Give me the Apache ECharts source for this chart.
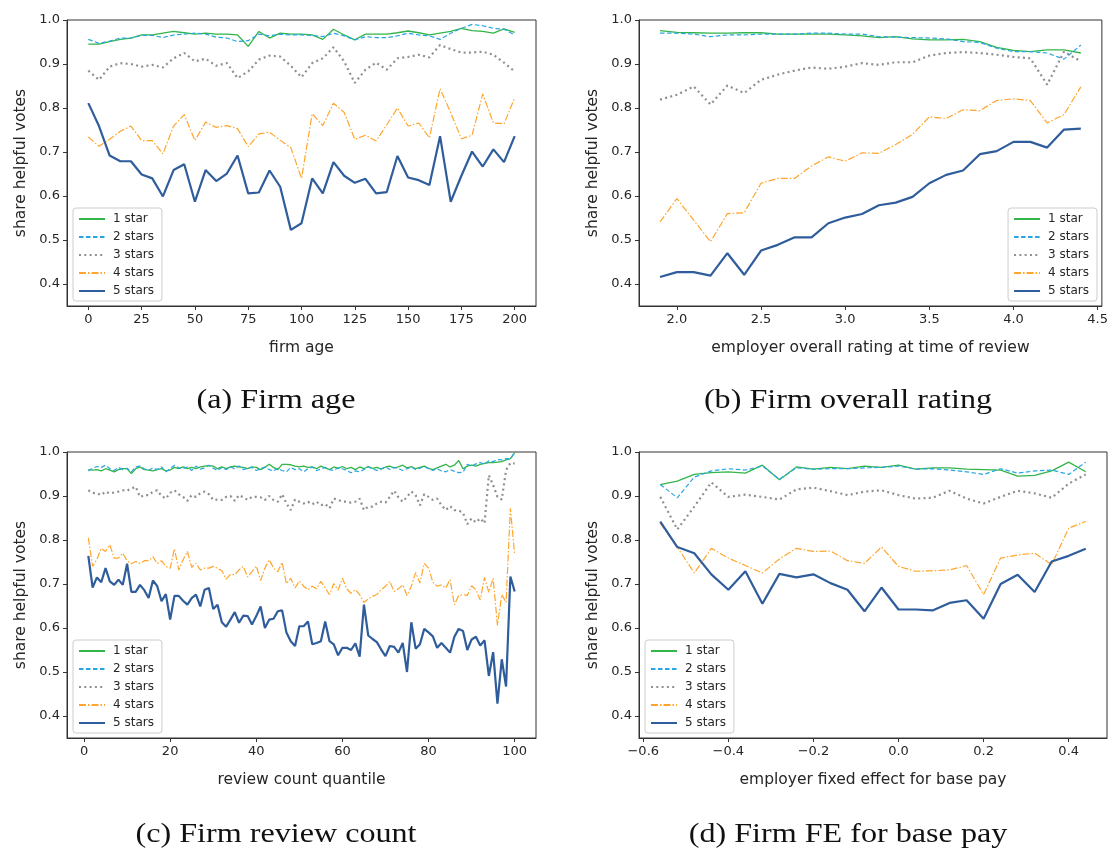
<!DOCTYPE html>
<html>
<head>
<meta charset="utf-8">
<script src="https://cdn.jsdelivr.net/npm/echarts@6/dist/echarts.min.js"></script>
<style>
  html, body { margin: 0; padding: 0; background: #fff; }
  #chart { width: 1111px; height: 848px; }
</style>
</head>
<body>
<div id="chart"></div>
<script>
// ---- series labels ----
const starNames = ['1 star', '2 stars', '3 stars', '4 stars', '5 stars'];

// ---- (a) firm age ----
const ageX = [0,5,10,15,20,25,30,35,40,45,50,55,60,65,70,75,80,85,90,95,100,105,110,115,120,125,130,135,140,145,150,155,160,165,170,175,180,185,190,195,200];
const age1 = [0.945,0.945,0.951,0.956,0.959,0.966,0.966,0.970,0.974,0.971,0.968,0.970,0.968,0.968,0.966,0.940,0.974,0.959,0.970,0.968,0.968,0.966,0.956,0.979,0.966,0.955,0.968,0.968,0.968,0.971,0.975,0.971,0.966,0.970,0.974,0.981,0.976,0.974,0.970,0.980,0.972];
const age2 = [0.956,0.947,0.952,0.959,0.959,0.965,0.965,0.960,0.966,0.968,0.970,0.968,0.961,0.959,0.951,0.953,0.968,0.964,0.968,0.966,0.966,0.965,0.962,0.970,0.964,0.955,0.962,0.960,0.960,0.964,0.970,0.966,0.964,0.956,0.970,0.981,0.990,0.987,0.981,0.979,0.966];
const age3 = [0.885,0.864,0.894,0.902,0.900,0.894,0.898,0.892,0.913,0.925,0.906,0.912,0.896,0.902,0.868,0.883,0.910,0.919,0.917,0.896,0.870,0.902,0.913,0.938,0.906,0.857,0.887,0.903,0.887,0.913,0.916,0.921,0.915,0.943,0.934,0.926,0.926,0.928,0.921,0.903,0.883];
const age4 = [0.734,0.713,0.729,0.747,0.759,0.726,0.726,0.696,0.759,0.785,0.726,0.768,0.756,0.760,0.753,0.712,0.741,0.745,0.727,0.710,0.640,0.787,0.760,0.811,0.790,0.729,0.738,0.725,0.762,0.800,0.759,0.766,0.732,0.844,0.789,0.730,0.738,0.832,0.766,0.764,0.823];
const age5 = [0.811,0.759,0.692,0.679,0.679,0.649,0.640,0.599,0.659,0.672,0.587,0.659,0.634,0.651,0.692,0.606,0.608,0.658,0.621,0.523,0.538,0.640,0.606,0.677,0.646,0.630,0.639,0.606,0.609,0.691,0.642,0.636,0.625,0.736,0.587,0.646,0.701,0.667,0.706,0.677,0.736];

// ---- (b) employer overall rating ----
const ratingX = [1.9,2.0,2.1,2.2,2.3,2.4,2.5,2.6,2.7,2.8,2.9,3.0,3.1,3.2,3.3,3.4,3.5,3.6,3.7,3.8,3.9,4.0,4.1,4.2,4.3,4.4];
const rating1 = [0.976,0.972,0.971,0.970,0.970,0.971,0.971,0.968,0.968,0.968,0.968,0.966,0.964,0.960,0.962,0.957,0.955,0.955,0.956,0.951,0.938,0.931,0.928,0.932,0.932,0.925];
const rating2 = [0.970,0.970,0.968,0.962,0.966,0.966,0.968,0.968,0.968,0.970,0.970,0.968,0.968,0.962,0.961,0.960,0.959,0.957,0.951,0.949,0.936,0.928,0.928,0.925,0.911,0.943];
const rating3 = [0.819,0.830,0.849,0.808,0.851,0.834,0.864,0.876,0.885,0.892,0.889,0.894,0.902,0.898,0.904,0.904,0.919,0.925,0.927,0.925,0.921,0.916,0.913,0.853,0.928,0.906];
const rating4 = [0.541,0.594,0.545,0.496,0.560,0.562,0.629,0.640,0.640,0.668,0.689,0.679,0.698,0.697,0.717,0.740,0.780,0.776,0.796,0.794,0.817,0.821,0.817,0.766,0.785,0.848];
const rating5 = [0.416,0.427,0.427,0.419,0.470,0.421,0.476,0.489,0.506,0.506,0.538,0.551,0.559,0.579,0.585,0.598,0.629,0.648,0.658,0.695,0.702,0.723,0.723,0.710,0.751,0.753];

// ---- (c) review count quantile ----
const quantX = [1,2,3,4,5,6,7,8,9,10,11,12,13,14,15,16,17,18,19,20,21,22,23,24,25,26,27,28,29,30,31,32,33,34,35,36,37,38,39,40,41,42,43,44,45,46,47,48,49,50,51,52,53,54,55,56,57,58,59,60,61,62,63,64,65,66,67,68,69,70,71,72,73,74,75,76,77,78,79,80,81,82,83,84,85,86,87,88,89,90,91,92,93,94,95,96,97,98,99,100];
const quant1 = [0.960,0.959,0.960,0.957,0.962,0.959,0.955,0.960,0.962,0.962,0.951,0.962,0.966,0.960,0.959,0.957,0.960,0.962,0.957,0.959,
                0.965,0.962,0.966,0.962,0.965,0.962,0.966,0.968,0.969,0.968,0.962,0.966,0.962,0.966,0.968,0.966,0.965,0.962,0.966,0.965,
                0.960,0.965,0.972,0.965,0.960,0.972,0.972,0.971,0.968,0.966,0.968,0.965,0.966,0.962,0.968,0.964,0.960,0.966,0.963,0.967,
                0.962,0.965,0.960,0.966,0.962,0.967,0.963,0.965,0.961,0.966,0.968,0.964,0.966,0.970,0.964,0.967,0.962,0.965,0.968,0.963,
                0.960,0.964,0.968,0.972,0.966,0.970,0.981,0.962,0.968,0.970,0.968,0.972,0.974,0.976,0.976,0.977,0.978,0.982,0.985,0.998];
const quant2 = [0.957,0.963,0.967,0.965,0.970,0.962,0.958,0.965,0.960,0.963,0.955,0.966,0.968,0.962,0.958,0.964,0.960,0.966,0.955,0.962,
                0.970,0.964,0.962,0.966,0.958,0.968,0.961,0.964,0.970,0.963,0.958,0.965,0.960,0.966,0.962,0.968,0.960,0.963,0.965,0.958,
                0.962,0.966,0.960,0.957,0.963,0.958,0.955,0.965,0.960,0.962,0.955,0.962,0.966,0.958,0.961,0.965,0.960,0.958,0.964,0.962,
                0.958,0.953,0.957,0.955,0.960,0.966,0.962,0.958,0.962,0.966,0.960,0.965,0.962,0.958,0.962,0.966,0.960,0.963,0.967,0.962,
                0.958,0.962,0.957,0.955,0.960,0.956,0.953,0.954,0.972,0.968,0.973,0.976,0.972,0.980,0.978,0.983,0.982,0.985,0.984,1.000];
const quant3 = [0.913,0.907,0.906,0.902,0.910,0.906,0.908,0.910,0.913,0.912,0.917,0.921,0.898,0.902,0.902,0.910,0.913,0.900,0.894,0.907,
                0.913,0.904,0.898,0.889,0.902,0.898,0.906,0.910,0.904,0.891,0.892,0.891,0.898,0.900,0.889,0.902,0.897,0.891,0.898,0.898,
                0.897,0.891,0.900,0.891,0.887,0.904,0.883,0.868,0.892,0.887,0.883,0.887,0.881,0.887,0.879,0.882,0.872,0.894,0.891,0.887,
                0.887,0.885,0.887,0.894,0.868,0.876,0.876,0.883,0.887,0.885,0.898,0.912,0.897,0.887,0.898,0.910,0.902,0.879,0.904,0.898,
                0.891,0.894,0.879,0.868,0.877,0.868,0.867,0.862,0.836,0.849,0.840,0.849,0.838,0.947,0.925,0.898,0.892,0.959,0.975,0.974];
const quant4 = [0.805,0.740,0.756,0.781,0.774,0.789,0.759,0.759,0.770,0.753,0.746,0.751,0.747,0.753,0.753,0.762,0.746,0.753,0.740,0.736,
                0.780,0.732,0.755,0.774,0.738,0.747,0.732,0.736,0.736,0.740,0.736,0.730,0.711,0.722,0.721,0.732,0.740,0.716,0.728,0.741,
                0.708,0.736,0.755,0.736,0.728,0.749,0.701,0.713,0.691,0.707,0.695,0.687,0.695,0.689,0.706,0.691,0.676,0.701,0.686,0.713,
                0.689,0.679,0.687,0.676,0.658,0.666,0.672,0.676,0.687,0.695,0.706,0.683,0.689,0.698,0.674,0.695,0.726,0.702,0.747,0.736,
                0.704,0.695,0.698,0.691,0.710,0.653,0.674,0.676,0.674,0.696,0.687,0.664,0.715,0.681,0.713,0.606,0.676,0.658,0.872,0.766];
const quant5 = [0.764,0.692,0.715,0.704,0.736,0.706,0.698,0.710,0.698,0.746,0.682,0.682,0.698,0.686,0.668,0.708,0.695,0.661,0.677,0.619,
                0.673,0.673,0.662,0.653,0.668,0.676,0.649,0.687,0.691,0.643,0.653,0.613,0.603,0.619,0.636,0.612,0.628,0.627,0.608,0.627,
                0.649,0.600,0.619,0.621,0.638,0.640,0.590,0.570,0.559,0.604,0.604,0.615,0.563,0.566,0.570,0.615,0.570,0.563,0.538,0.555,
                0.555,0.550,0.565,0.535,0.653,0.583,0.575,0.568,0.551,0.536,0.559,0.557,0.544,0.566,0.500,0.613,0.553,0.563,0.598,0.590,
                0.581,0.555,0.566,0.555,0.544,0.580,0.598,0.593,0.550,0.574,0.580,0.560,0.572,0.491,0.545,0.428,0.529,0.467,0.717,0.683];

// ---- (d) employer fixed effect for base pay ----
const feX = [-0.56,-0.52,-0.48,-0.44,-0.40,-0.36,-0.32,-0.28,-0.24,-0.20,-0.16,-0.12,-0.08,-0.04,0.00,0.04,0.08,0.12,0.16,0.20,0.24,0.28,0.32,0.36,0.40,0.44];
const fe1 = [0.926,0.934,0.949,0.953,0.955,0.952,0.970,0.937,0.966,0.961,0.965,0.962,0.968,0.965,0.970,0.961,0.964,0.964,0.961,0.960,0.959,0.945,0.947,0.957,0.977,0.955];
const fe2 = [0.926,0.896,0.943,0.957,0.962,0.959,0.968,0.938,0.964,0.961,0.962,0.962,0.964,0.965,0.968,0.961,0.962,0.959,0.955,0.949,0.962,0.952,0.957,0.959,0.949,0.977];
const fe3 = [0.898,0.824,0.876,0.931,0.898,0.903,0.898,0.892,0.915,0.919,0.911,0.902,0.910,0.913,0.902,0.894,0.896,0.912,0.894,0.883,0.898,0.912,0.906,0.896,0.928,0.949];
const fe4 = [0.838,0.784,0.725,0.781,0.759,0.742,0.725,0.757,0.781,0.774,0.775,0.753,0.747,0.784,0.740,0.729,0.730,0.732,0.742,0.676,0.759,0.766,0.770,0.744,0.827,0.842];
const fe5 = [0.842,0.784,0.770,0.722,0.687,0.729,0.655,0.723,0.715,0.722,0.702,0.687,0.638,0.692,0.642,0.642,0.640,0.657,0.663,0.621,0.700,0.721,0.682,0.751,0.764,0.780];

// ---- tick labels ----
const ageTicks = [0, 25, 50, 75, 100, 125, 150, 175, 200];
const ratingTicks = [2.0, 2.5, 3.0, 3.5, 4.0, 4.5];
const quantTicks = [0, 20, 40, 60, 80, 100];
const feTicks = [-0.6, -0.4, -0.2, 0.0, 0.2, 0.4];
const shareTicks = [0.4, 0.5, 0.6, 0.7, 0.8, 0.9, 1.0];

// ---- axis titles and captions ----
const xTitles = ['firm age', 'employer overall rating at time of review', 'review count quantile', 'employer fixed effect for base pay'];
const yTitle = 'share helpful votes';
const captions = ['(a) Firm age', '(b) Firm overall rating', '(c) Firm review count', '(d) Firm FE for base pay'];

// ---- drawing ----
const SANS = 'DejaVu Sans';
const INK = '#262626';
const lineStyles = [
  { color: '#33b54a', width: 1.3, type: 'solid' },
  { color: '#27a6e3', width: 1.2, type: [4.5, 2.5] },
  { color: '#8f8f8f', width: 2.2, type: [2, 3.3] },
  { color: '#ffa52c', width: 1.2, type: [7, 2, 1.5, 2] },
  { color: '#2f5d9c', width: 2.2, type: 'solid' }
];

const grids = [
  { left: 67, top: 20, width: 469, height: 286 },
  { left: 639, top: 20, width: 464, height: 286 },
  { left: 67, top: 452, width: 469, height: 286 },
  { left: 639, top: 452, width: 468, height: 286 }
];
const xRanges = [[-10, 210], [1.775, 4.525], [-3.95, 104.95], [-0.61, 0.49]];
const xTickSets = [ageTicks, ratingTicks, quantTicks, feTicks];
const xFormat = [
  v => String(Math.round(v)),
  v => v.toFixed(1),
  v => String(Math.round(v)),
  v => v.toFixed(1).replace('-', '\u2212').replace('\u22120.0', '0.0')
];
const panelX = [ageX, ratingX, quantX, feX];
const panelY = [
  [age1, age2, age3, age4, age5],
  [rating1, rating2, rating3, rating4, rating5],
  [quant1, quant2, quant3, quant4, quant5],
  [fe1, fe2, fe3, fe4, fe5]
];

const xAxes = [], yAxes = [], series = [], legends = [], graphics = [];
grids.forEach((g, i) => {
  xAxes.push({
    type: 'value', gridIndex: i, min: xRanges[i][0], max: xRanges[i][1],
    name: xTitles[i], nameLocation: 'middle', nameGap: 34,
    nameTextStyle: { fontFamily: SANS, fontSize: 15.5, color: INK },
    axisLine: { show: true, onZero: false, lineStyle: { color: '#333', width: 1 } },
    axisTick: { show: true, inside: false, length: 4, lineStyle: { color: '#333' }, customValues: xTickSets[i] },
    axisLabel: { show: true, margin: 7, fontFamily: SANS, fontSize: 13, color: INK,
                 customValues: xTickSets[i], formatter: xFormat[i] },
    splitLine: { show: false }
  });
  yAxes.push({
    type: 'value', gridIndex: i, min: 0.35, max: 1.0,
    name: yTitle, nameLocation: 'middle', nameGap: 38, nameRotate: 90,
    nameTextStyle: { fontFamily: SANS, fontSize: 15.5, color: INK },
    axisLine: { show: true, onZero: false, lineStyle: { color: '#333', width: 1 } },
    axisTick: { show: true, inside: false, length: 4, lineStyle: { color: '#333' }, customValues: shareTicks },
    axisLabel: { show: true, margin: 7, fontFamily: SANS, fontSize: 13, color: INK,
                 customValues: shareTicks, formatter: v => v.toFixed(1) },
    splitLine: { show: false }
  });
  starNames.forEach((name, s) => {
    series.push({
      type: 'line', name: name, xAxisIndex: i, yAxisIndex: i,
      data: panelX[i].map((x, k) => [x, panelY[i][s][k]]),
      symbol: 'none', showSymbol: false, smooth: false, animation: false,
      lineStyle: lineStyles[s], itemStyle: { color: lineStyles[s].color },
      z: 2 + s
    });
  });
  const onRight = i === 1;
  const legendPos = onRight
    ? { right: 1111 - 1097, top: g.top + 188 }
    : { left: g.left + 6, top: g.top + 188 };
  legends.push(Object.assign({
    orient: 'vertical', data: starNames, selectedMode: false,
    itemWidth: 26, itemHeight: 10, itemGap: 6,
    padding: [5, 8, 4, 5],
    backgroundColor: 'rgba(255,255,255,0.85)',
    borderColor: '#cccccc', borderWidth: 1, borderRadius: 3,
    // legend keys show only the line sample, no marker
    itemStyle: { color: 'rgba(0,0,0,0)', borderWidth: 0, opacity: 0 },
    textStyle: { fontFamily: SANS, fontSize: 12, color: INK, padding: [0, 0, 0, 3] }
  }, legendPos));
  const capX = (i % 2 === 0) ? 276 : 848;
  const capY = (i < 2) ? 401 : 835;
  graphics.push({
    type: 'text', x: capX, y: capY, scaleX: 1.19, scaleY: 1,
    style: { text: captions[i], font: '27px "Liberation Serif", "DejaVu Serif", serif',
             fill: '#111', textAlign: 'center', textVerticalAlign: 'middle' }
  });
});

const chart = echarts.init(document.getElementById('chart'), null, { renderer: 'canvas' });
chart.setOption({
  animation: false,
  backgroundColor: '#ffffff',
  grid: grids.map(g => Object.assign({ show: true, borderColor: '#333', borderWidth: 1, backgroundColor: 'transparent' }, g)),
  xAxis: xAxes,
  yAxis: yAxes,
  legend: legends,
  series: series,
  graphic: graphics
});
</script>
</body>
</html>
